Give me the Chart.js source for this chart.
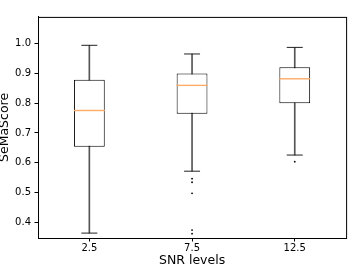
<!DOCTYPE html>
<html>
<head>
<meta charset="utf-8">
<script src="https://cdn.jsdelivr.net/npm/chart.js@4/dist/chart.umd.min.js"></script>
<style>
    html, body { margin: 0; padding: 0; background: #fff; }
    #wrap { width: 363px; height: 272px; }
</style>
</head>
<body>
<div id="wrap"><canvas id="boxChart"></canvas></div>
<script>
const snrLevels = ['2.5', '7.5', '12.5'];
const whiskerLow = [0.365, 0.572, 0.626];
const quartile1 = [0.654, 0.764, 0.799];
const medians = [0.775, 0.859, 0.881];
const quartile3 = [0.878, 0.899, 0.920];
const whiskerHigh = [0.993, 0.964, 0.986];
const outliers = [
    { x: '7.5', y: 0.547 },
    { x: '7.5', y: 0.535 },
    { x: '7.5', y: 0.498 },
    { x: '7.5', y: 0.375 },
    { x: '7.5', y: 0.363 },
    { x: '12.5', y: 0.604 },
];
const yTicks = [0.4, 0.5, 0.6, 0.7, 0.8, 0.9, 1.0];

const font = "'DejaVu Sans', sans-serif";

// spines on top and right, like matplotlib
const framePlugin = {
    id: 'frame',
    afterDraw(chart) {
        const { ctx, chartArea: a } = chart;
        ctx.save();
        ctx.strokeStyle = '#000';
        ctx.lineWidth = 1;
        ctx.strokeRect(a.left + 0.5, a.top + 0.5, a.right - a.left, a.bottom - a.top);
        ctx.restore();
    },
};

const pairs = (lo, hi) => lo.map((v, i) => [v, hi[i]]);
const atLabels = (vals) => vals.map((v, i) => ({ x: snrLevels[i], y: v }));

new Chart(document.getElementById('boxChart'), {
    type: 'bar',
    data: {
        labels: snrLevels,
        datasets: [
            {
                // medians
                type: 'scatter',
                data: atLabels(medians),
                pointStyle: 'line',
                pointRadius: 15.5,
                borderColor: '#ffaa66',
                borderWidth: 1.4,
                order: 0,
            },
            {
                // caps
                type: 'scatter',
                data: atLabels(whiskerHigh).concat(atLabels(whiskerLow)),
                pointStyle: 'line',
                pointRadius: 8,
                borderColor: '#222',
                borderWidth: 1,
                order: 1,
            },
            {
                type: 'scatter',
                data: outliers,
                pointStyle: 'circle',
                pointRadius: 0.9,
                backgroundColor: '#000',
                borderWidth: 0,
                order: 1,
            },
            {
                // boxes
                data: pairs(quartile1, quartile3),
                backgroundColor: '#fff',
                borderColor: '#000',
                borderWidth: 1,
                borderSkipped: false,
                grouped: false,
                barPercentage: 0.3,
                categoryPercentage: 1,
                order: 2,
            },
            {
                // whiskers
                data: pairs(whiskerLow, whiskerHigh),
                backgroundColor: '#555',
                borderWidth: 0,
                grouped: false,
                barThickness: 1,
                order: 3,
            },
        ],
    },
    options: {
        responsive: true,
        maintainAspectRatio: false,
        animation: false,
        layout: { padding: { top: 8, right: 10, left: 0, bottom: 0 } },
        plugins: {
            legend: { display: false },
            tooltip: { enabled: false },
        },
        scales: {
            x: {
                type: 'category',
                offset: true,
                afterFit(scale) { scale.height = 34; },
                grid: { drawOnChartArea: false, drawTicks: true, tickLength: 3.5, color: '#000', offset: false },
                border: { display: true, color: '#000' },
                ticks: { color: '#000', padding: 1, font: { family: font, size: 10 }, maxRotation: 0 },
                title: {
                    display: true,
                    text: 'SNR levels',
                    color: '#000',
                    font: { family: font, size: 12.5, lineHeight: 1 },
                    padding: { top: 0, bottom: 5 },
                },
            },
            y: {
                type: 'linear',
                min: 0.3486,
                max: 1.088,
                afterFit(scale) { scale.width = 38; },
                afterBuildTicks(scale) { scale.ticks = yTicks.map(v => ({ value: v })); },
                grid: { drawOnChartArea: false, drawTicks: true, tickLength: 3.5, color: '#000' },
                border: { display: true, color: '#000' },
                ticks: {
                    color: '#000',
                    padding: 3.5,
                    font: { family: font, size: 10 },
                    callback: (v) => Number(v).toFixed(1),
                },
                title: {
                    display: true,
                    text: 'SeMaScore',
                    color: '#000',
                    font: { family: font, size: 12.5, lineHeight: 1 },
                    padding: { top: -1.5, bottom: 0 },
                },
            },
        },
    },
    plugins: [framePlugin],
});
</script>
</body>
</html>
